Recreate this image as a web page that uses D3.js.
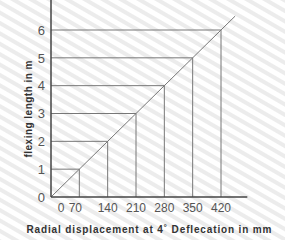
<!DOCTYPE html>
<html>
<head>
<meta charset="utf-8">
<script src="https://cdn.jsdelivr.net/npm/d3@7"></script>
<style>
  body { margin: 0; background: #fff; }
  svg { display: block; font-family: "Liberation Sans", Arial, sans-serif; }
</style>
</head>
<body>
<div id="chart"></div>
<script>
// values
const lengths = [1, 2, 3, 4, 5, 6];                      // flexing length (m)
const displacements = [70, 140, 210, 280, 350, 420];     // radial displacement (mm)
const xTicks = [0, 70, 140, 210, 280, 350, 420];
const yTicks = [0, 1, 2, 3, 4, 5, 6];
const lineEnd = { mm: 455, m: 6.5 };                     // where the diagonal stops

const width = 285;
const height = 240;

const svg = d3.select("#chart")
    .append("svg")
    .attr("width", width)
    .attr("height", height);

// faint diagonal stripes in the background
const defs = svg.append("defs");
const pat = defs.append("pattern")
    .attr("id", "stripes")
    .attr("width", 9)
    .attr("height", 9)
    .attr("patternUnits", "userSpaceOnUse")
    .attr("patternTransform", "rotate(30)");
pat.append("rect").attr("width", 9).attr("height", 9).attr("fill", "#fff");
pat.append("rect").attr("width", 9).attr("height", 4).attr("fill", "#ececec");

svg.append("rect")
    .attr("width", width)
    .attr("height", height)
    .attr("fill", "url(#stripes)");

// Scales
const x = d3.scaleLinear().domain([0, 420]).range([51, 221]);
const y = d3.scaleLinear().domain([0, 6]).range([197, 30]);

const gridColor = "#777";

// horizontal lines from the axis to the diagonal
svg.selectAll(".hline")
    .data(lengths)
    .enter()
    .append("line")
    .attr("x1", x(0))
    .attr("x2", (d, i) => x(displacements[i]))
    .attr("y1", d => y(d))
    .attr("y2", d => y(d))
    .attr("stroke", gridColor)
    .attr("stroke-width", 1);

// vertical lines from the axis up to the diagonal
svg.selectAll(".vline")
    .data(displacements)
    .enter()
    .append("line")
    .attr("x1", d => x(d))
    .attr("x2", d => x(d))
    .attr("y1", y(0))
    .attr("y2", (d, i) => y(lengths[i]))
    .attr("stroke", gridColor)
    .attr("stroke-width", 1);

// the diagonal
svg.append("line")
    .attr("x1", x(0))
    .attr("y1", y(0))
    .attr("x2", x(lineEnd.mm))
    .attr("y2", y(lineEnd.m))
    .attr("stroke", gridColor)
    .attr("stroke-width", 1);

// Axes
svg.append("line")
    .attr("x1", x(0)).attr("x2", x(0))
    .attr("y1", y(0)).attr("y2", y(7.4))
    .attr("stroke", "#444")
    .attr("stroke-width", 1.5);

svg.append("line")
    .attr("x1", x(0)).attr("x2", x(485))
    .attr("y1", y(0)).attr("y2", y(0))
    .attr("stroke", "#444")
    .attr("stroke-width", 1.5);

// tick labels
svg.selectAll(".ylab")
    .data(yTicks)
    .enter()
    .append("text")
    .attr("x", x(0) - 6)
    .attr("y", d => y(d))
    .attr("dy", "0.36em")
    .attr("text-anchor", "end")
    .attr("font-size", 13)
    .attr("fill", "#555")
    .text(d => d);

// the first two labels are crowded together in the original
const xShift = { 0: 10, 70: -4 };
svg.selectAll(".xlab")
    .data(xTicks)
    .enter()
    .append("text")
    .attr("x", d => x(d) + (xShift[d] || 0))
    .attr("y", 212)
    .attr("text-anchor", "middle")
    .attr("font-size", 12)
    .attr("fill", "#555")
    .text(d => d);

// axis titles
svg.append("text")
    .attr("x", 149)
    .attr("y", 233)
    .attr("text-anchor", "middle")
    .attr("font-size", 10)
    .attr("font-weight", "bold")
    .attr("fill", "#333")
    .attr("textLength", 245)
    .text("Radial displacement at 4\u02DA Deflecation in mm");

svg.append("text")
    .attr("transform", "translate(32,109) rotate(-90)")
    .attr("text-anchor", "middle")
    .attr("font-size", 10)
    .attr("font-weight", "bold")
    .attr("fill", "#333")
    .attr("textLength", 97)
    .text("flexing length in m");
</script>
</body>
</html>
